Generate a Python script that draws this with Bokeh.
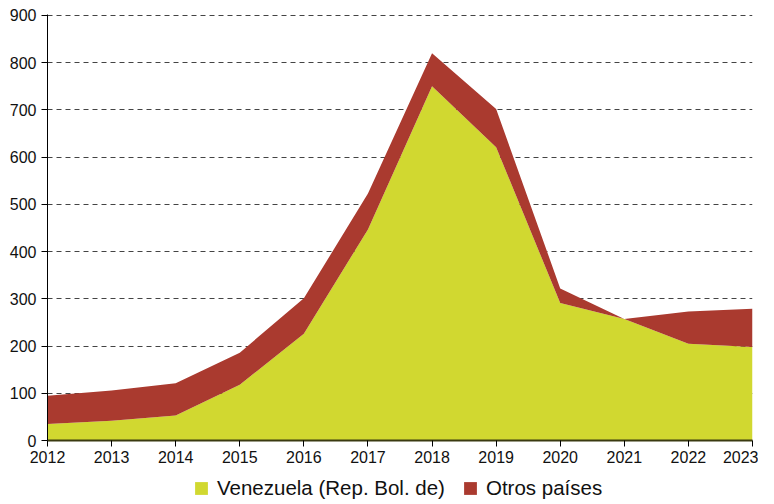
from bokeh.plotting import figure
from bokeh.models import ColumnDataSource, Legend, LegendItem, FixedTicker
from bokeh.layouts import column
from bokeh.embed import file_html
from bokeh.resources import INLINE

years = [2012, 2013, 2014, 2015, 2016, 2017, 2018, 2019, 2020, 2021, 2022, 2023]
venezuela = [35, 42, 53, 118, 226, 447, 750, 621, 291, 257, 205, 198]
otros = [60, 64, 68, 68, 75, 76, 70, 81, 31, 0, 68, 81]
series_names = ["Venezuela (Rep. Bol. de)", "Otros países"]
y_ticks = [0, 100, 200, 300, 400, 500, 600, 700, 800, 900]

colors = ["#d1d830", "#aa3a2f"]
FONT = "Liberation Sans"

source = ColumnDataSource(dict(year=years, ven=venezuela, otros=otros))

p = figure(width=758, height=470, x_range=(2012, 2023), y_range=(0, 902),
           output_backend="svg", toolbar_location=None,
           min_border_left=47, min_border_right=6, min_border_top=14, min_border_bottom=30)

p.varea_stack(["ven", "otros"], x="year", color=colors, source=source)

p.outline_line_color = None
p.xgrid.grid_line_color = None
p.ygrid.grid_line_color = "#444444"
p.ygrid.grid_line_dash = "5 4"
p.ygrid.grid_line_width = 1
p.ygrid.ticker = FixedTicker(ticks=y_ticks)

p.yaxis.ticker = FixedTicker(ticks=y_ticks)
p.xaxis.ticker = FixedTicker(ticks=years)
for ax in (p.xaxis, p.yaxis):
    ax.axis_line_color = "black"
    ax.major_tick_line_color = "black"
    ax.major_tick_in = 0
    ax.major_tick_out = 6
    ax.minor_tick_line_color = None
    ax.major_label_text_font = FONT
    ax.major_label_text_font_size = "16px"
    ax.major_label_text_color = "#111111"
p.xaxis.axis_line_width = 2
p.xaxis.axis_line_color = "#3a3a10"
p.yaxis.major_label_standoff = 5
p.xaxis.major_label_standoff = 4

# legend strip (separate small figure so the legend is not clipped)
lf = figure(width=758, height=34, x_range=(0, 1), y_range=(5000, 5001),
            output_backend="svg", toolbar_location=None,
            x_axis_location=None, y_axis_location=None,
            min_border_left=0, min_border_right=0, min_border_top=0, min_border_bottom=0)
lf.outline_line_color = None
lf.grid.grid_line_color = None
lr = lf.varea_stack(["ven", "otros"], x="year", color=colors, source=source)

legend = Legend(items=[LegendItem(label=series_names[0], renderers=[lr[0]]),
                       LegendItem(label=series_names[1], renderers=[lr[1]])],
                orientation="horizontal", location=(146, 4))
legend.label_text_font = FONT
legend.label_text_font_size = "20.5px"
legend.label_text_color = "#111111"
legend.label_height = 16
legend.glyph_width = 16
legend.glyph_height = 16
legend.spacing = 17
legend.label_standoff = 8
legend.border_line_color = None
legend.background_fill_alpha = 0
legend.padding = 2
legend.margin = 0
lf.add_layout(legend, "center")

layout = column(p, lf, spacing=0)
open("out.html", "w").write(file_html(layout, INLINE))
